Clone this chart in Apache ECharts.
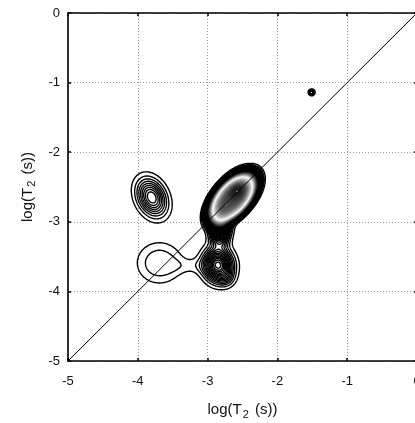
<!DOCTYPE html>
<html><head><meta charset="utf-8">
<script src="https://cdn.jsdelivr.net/npm/echarts@6/dist/echarts.min.js"></script>
<style>html,body{margin:0;padding:0;background:#fff}#chart{width:415px;height:423px}</style>
</head><body><div id="chart"></div>
<script>
// Axis range, log10 of T2 in seconds on both axes
const axisMin = -5, axisMax = 0, axisStep = 1;
const tickLabels = ['-5', '-4', '-3', '-2', '-1', '0'];

// Exchange-map peaks: centre, height, widths along / across the principal axis,
// axis angle (deg) and profile sharpness (1 = Gaussian, 2 = flat-topped)
const peakNames = ['main', 'summit', 'neck', 'lower', 'lowerTail', 'left', 'bridge', 'upperLeft', 'dot'];
const peakX     = [-2.64, -2.56, -2.82, -2.85, -2.74, -3.69, -3.20, -3.80, -1.51];
const peakY     = [-2.66, -2.53, -3.00, -3.62, -3.80, -3.59, -3.63, -2.65, -1.14];
const peakH     = [14.0,   2.5,   2.0,   1.2,   0.2,   0.20,  0.10,  0.80,  0.40];
const peakSa    = [ 0.28,  0.14,  0.18,  0.15,  0.08,  0.23,  0.25,  0.18,  0.028];
const peakSb    = [ 0.148, 0.10,  0.085, 0.13,  0.08,  0.21,  0.08,  0.125, 0.028];
const peakAngle = [ 48,    48,    88,    100,   0,     0,     0,    -65,    0];
const peakShape = [ 2,     1,     1,     1,     1,     1.5,   1,     1,     1];

// Contour spacing
const levelStep = 0.08;

const FONT = '"Liberation Sans", Arial, sans-serif';

function density(x, y) {
  let s = 0;
  for (let k = 0; k < peakX.length; k++) {
    const th = peakAngle[k] * Math.PI / 180, c = Math.cos(th), sn = Math.sin(th);
    const dx = x - peakX[k], dy = y - peakY[k];
    const u = dx * c + dy * sn, v = -dx * sn + dy * c;
    const q = 0.5 * (u * u / (peakSa[k] * peakSa[k]) + v * v / (peakSb[k] * peakSb[k]));
    s += peakH[k] * Math.exp(-Math.pow(q, peakShape[k]));
  }
  return s;
}

// Sample the map on a regular grid
const gx0 = -4.6, gy0 = -4.4, gh = 0.008;
const nx = 451, ny = 451;
const F = new Float64Array(nx * ny);
let fmax = 0;
for (let j = 0; j < ny; j++) for (let i = 0; i < nx; i++) {
  const v = density(gx0 + i * gh, gy0 + j * gh);
  F[j * nx + i] = v; if (v > fmax) fmax = v;
}

// Marching squares with segment stitching
function contour(L) {
  const OFF = nx * ny;
  const pts = new Map(), adj = new Map();
  const link = (a, b) => {
    if (!adj.has(a)) adj.set(a, []); if (!adj.has(b)) adj.set(b, []);
    adj.get(a).push(b); adj.get(b).push(a);
  };
  const interp = (x0, y0, v0, x1, y1, v1) => {
    const t = (L - v0) / (v1 - v0);
    return [x0 + t * (x1 - x0), y0 + t * (y1 - y0)];
  };
  for (let j = 0; j < ny - 1; j++) for (let i = 0; i < nx - 1; i++) {
    const a = F[j * nx + i], b = F[j * nx + i + 1], c = F[(j + 1) * nx + i + 1], d = F[(j + 1) * nx + i];
    const A = a >= L, B = b >= L, C = c >= L, D = d >= L;
    if (A === B && B === C && C === D) continue;
    const x0 = gx0 + i * gh, x1 = x0 + gh, y0 = gy0 + j * gh, y1 = y0 + gh;
    const eB = j * nx + i, eT = (j + 1) * nx + i, eL = OFF + j * nx + i, eR = OFF + j * nx + i + 1;
    const cr = [];
    if (A !== B) { cr.push(eB); if (!pts.has(eB)) pts.set(eB, interp(x0, y0, a, x1, y0, b)); }
    if (B !== C) { cr.push(eR); if (!pts.has(eR)) pts.set(eR, interp(x1, y0, b, x1, y1, c)); }
    if (D !== C) { cr.push(eT); if (!pts.has(eT)) pts.set(eT, interp(x0, y1, d, x1, y1, c)); }
    if (A !== D) { cr.push(eL); if (!pts.has(eL)) pts.set(eL, interp(x0, y0, a, x0, y1, d)); }
    if (cr.length === 2) link(cr[0], cr[1]);
    else if (cr.length === 4) {
      const mid = (a + b + c + d) / 4 >= L;
      if (A) { if (mid) { link(eB, eR); link(eT, eL); } else { link(eB, eL); link(eR, eT); } }
      else { if (mid) { link(eB, eL); link(eR, eT); } else { link(eB, eR); link(eT, eL); } }
    }
  }
  const seen = new Set(), lines = [];
  const walk = (start) => {
    const path = [pts.get(start)]; seen.add(start);
    let cur = start;
    while (true) {
      const nxt = adj.get(cur).find(n => !seen.has(n));
      if (nxt === undefined) break;
      seen.add(nxt); path.push(pts.get(nxt)); cur = nxt;
    }
    if (adj.get(cur).includes(start) && path.length > 2) path.push(pts.get(start));
    lines.push(path);
  };
  for (const [k, v] of adj) if (v.length === 1 && !seen.has(k)) walk(k);
  for (const k of adj.keys()) if (!seen.has(k)) walk(k);
  return lines;
}

// Line shade by level: dark outer rings, light shoulders, grey summit
function levelColor(v) {
  const t = v / peakH[0];
  let g;
  if (t < 0.2) g = 0;
  else if (t < 0.6) g = (t - 0.2) / 0.4 * 255;
  else g = 255 - (t - 0.6) / 0.5 * 205;
  g = Math.round(Math.max(0, Math.min(255, g)));
  return 'rgb(' + g + ',' + g + ',' + g + ')';
}

const contourData = [];
for (let L = levelStep; L < fmax; L += levelStep) {
  const col = levelColor(L);
  for (const path of contour(L)) contourData.push({ coords: path, lineStyle: { color: col } });
}

const diagonal = [[axisMin, axisMin], [axisMax, axisMax]];

const nameRich = {
  a: { fontSize: 15, fontFamily: FONT, color: '#111' },
  s: { fontSize: 11, fontFamily: FONT, color: '#111', padding: [9, 2, 0, 1] }
};
const axisName = '{a|log(T}{s|2}{a| (s))}';

function baseAxis(pos, show) {
  return {
    type: 'value', min: axisMin, max: axisMax, interval: axisStep, position: pos,
    axisLine: { show: true, onZero: false, lineStyle: { color: '#000', width: 1.6 } },
    axisTick: { show: true, inside: true, length: 3, lineStyle: { color: '#000', width: 1.5 } },
    axisLabel: { show: show, margin: show ? 14 : 0, fontSize: 13, fontFamily: FONT, color: '#111',
      formatter: v => tickLabels[Math.round(v - axisMin)] },
    splitLine: { show: show, lineStyle: { color: '#9a9a9a', type: [1, 2], width: 1 } }
  };
}

const chart = echarts.init(document.getElementById('chart'), null, { renderer: 'canvas' });
const xMain = baseAxis('bottom', true);
Object.assign(xMain, { name: axisName, nameLocation: 'middle', nameGap: 39, nameTextStyle: { rich: nameRich } });
const yMain = baseAxis('left', true);
yMain.axisLabel.margin = 8;
Object.assign(yMain, { name: axisName, nameLocation: 'middle', nameGap: 30, nameTextStyle: { rich: nameRich } });

chart.setOption({
  animation: false,
  backgroundColor: '#fff',
  grid: { left: 68, top: 13, width: 349, height: 348, containLabel: false, outerBoundsMode: 'none' },
  xAxis: [xMain, baseAxis('top', false)],
  yAxis: [yMain, baseAxis('right', false)],
  series: [
    { type: 'lines', coordinateSystem: 'cartesian2d', polyline: true, silent: true,
      lineStyle: { width: 1.4, opacity: 1 }, data: contourData, z: 2 },
    { type: 'line', data: diagonal, symbol: 'none', silent: true, z: 3,
      lineStyle: { color: '#000', width: 1 } }
  ]
});
</script></body></html>
